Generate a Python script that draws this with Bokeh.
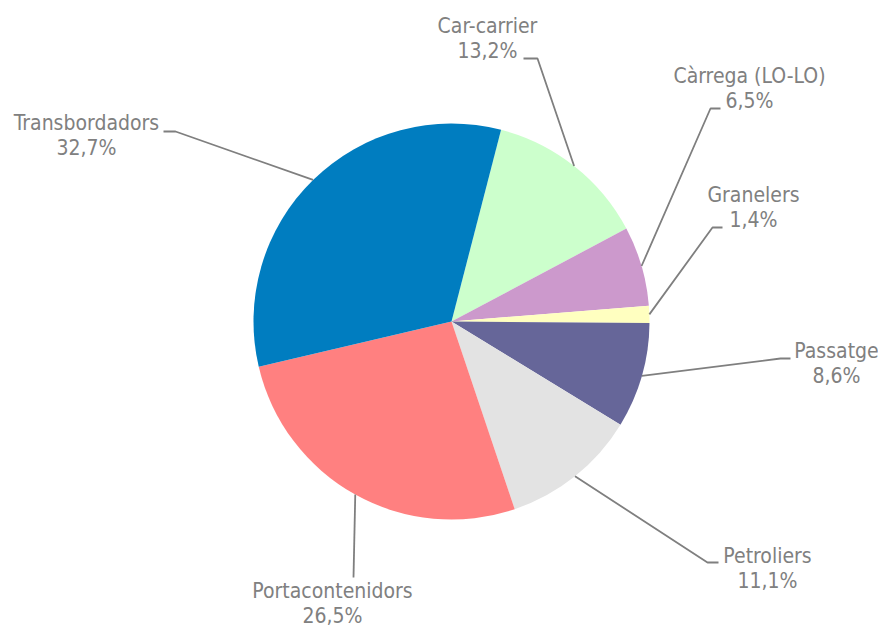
import math
from bokeh.plotting import figure
from bokeh.models import Range1d
from bokeh.core.properties import value
from bokeh.embed import file_html
from bokeh.resources import INLINE

# ---- data ----
categories = ["Car-carrier", "Càrrega (LO-LO)", "Granelers", "Passatge",
              "Petroliers", "Portacontenidors", "Transbordadors"]
shares = [13.2, 6.5, 1.4, 8.6, 11.1, 26.5, 32.7]
pct_labels = ["13,2%", "6,5%", "1,4%", "8,6%", "11,1%", "26,5%", "32,7%"]
colors = ["#CCFFCC", "#CC99CC", "#FFFFC0", "#666699",
          "#E3E3E3", "#FF8080", "#007DC0"]

# ---- layout (image pixel coordinates) ----
W, H = 878, 628
IMG_H = 628
cx, cy, R = 451, 321, 198
first_angle = 14.5  # degrees clockwise from 12 o'clock

# label centre x, baseline of first line (image y)
label_pos = [(487, 25), (749, 75), (753, 194), (836, 350),
             (767, 555), (332, 590), (86, 122)]
# leader line bends (image coords), after the slice point
leader_bends = [[(537, 58), (523, 58)],
                [(710, 108), (720, 108)],
                [(712, 227), (722, 227)],
                [(780, 358), (790, 358)],
                [(707, 562), (718, 562)],
                [(353, 577)],
                [(175, 131), (163, 131)]]
line_gap = 25.5
font = "'DejaVu Sans Condensed', 'DejaVu Sans', sans-serif"
font_size = "21px"
text_color = "#808080"


def fy(y):
    return IMG_H - y


p = figure(width=W, height=H, output_backend="svg", toolbar_location=None,
           x_range=Range1d(0, W), y_range=Range1d(IMG_H - H, IMG_H),
           min_border=0, outline_line_color=None)
p.axis.visible = False
p.grid.visible = False
p.background_fill_color = "white"
p.border_fill_color = "white"

total = sum(shares)
cum = 0.0
starts, ends, mids = [], [], []
for s in shares:
    a0 = first_angle + cum / total * 360.0
    cum += s
    a1 = first_angle + cum / total * 360.0
    starts.append(math.radians(90 - a0))
    ends.append(math.radians(90 - a1))
    mids.append((a0 + a1) / 2)

p.wedge(x=cx, y=fy(cy), radius=R, radius_units="data",
        start_angle=starts, end_angle=ends, direction="clock",
        fill_color=colors, line_color=None)

# leader lines
xs, ys = [], []
for m, bends in zip(mids, leader_bends):
    px = cx + R * math.sin(math.radians(m))
    py = cy - R * math.cos(math.radians(m))
    pts = [(px, py)] + bends
    xs.append([q[0] for q in pts])
    ys.append([fy(q[1]) for q in pts])
p.multi_line(xs=xs, ys=ys, line_color="#7F7F7F", line_width=1.8)

# labels
lx = [lp[0] for lp in label_pos]
p.text(x=lx, y=[fy(lp[1]) for lp in label_pos], text=categories,
       text_align="center", text_baseline="alphabetic",
       text_font=value(font), text_font_size=font_size, text_color=text_color)
p.text(x=lx, y=[fy(lp[1] + line_gap) for lp in label_pos], text=pct_labels,
       text_align="center", text_baseline="alphabetic",
       text_font=value(font), text_font_size=font_size, text_color=text_color)

open("out.html", "w").write(file_html(p, INLINE))
